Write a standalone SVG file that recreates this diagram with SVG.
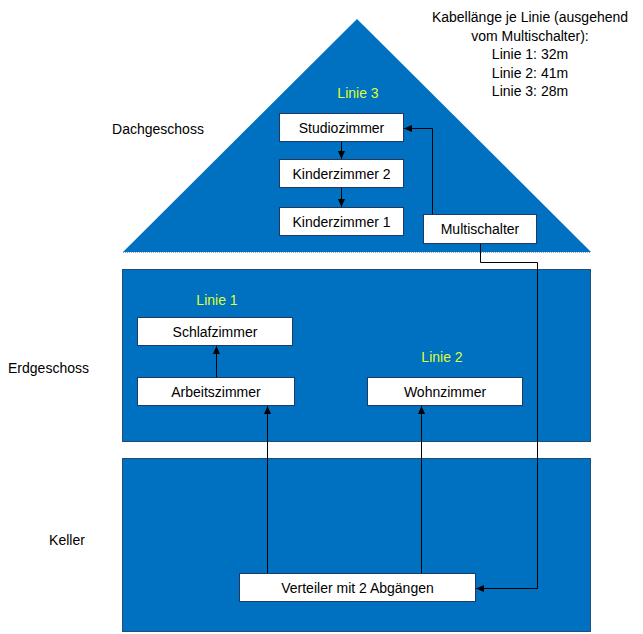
<svg xmlns="http://www.w3.org/2000/svg" width="643" height="634" viewBox="0 0 643 634">
<defs>
<style>
text{font-family:"Liberation Sans",Arial,sans-serif;font-size:14px;fill:#000;}
.c{text-anchor:middle;}
.lin{fill:#DDFF33;text-anchor:middle;}
.floor{fill:#0070C0;stroke:#1F4E79;stroke-width:1;}
.box{fill:#fff;stroke:#1F3864;stroke-width:1;}
.con{fill:none;stroke:#000;stroke-width:1;}
</style>
<marker id="ah" viewBox="0 0 8 8" refX="8" refY="4" markerWidth="8" markerHeight="8" orient="auto" markerUnits="userSpaceOnUse">
<path d="M0,0.5 L8,4 L0,7.5 Z" fill="#000"/>
</marker>
</defs>
<rect width="643" height="634" fill="#fff"/>

<g id="dachgeschoss">
<polygon points="357,19 591,252 123,252" fill="#0070C0"/>
<line x1="123" y1="252.5" x2="591" y2="252.5" stroke="#7FA7CC" stroke-dasharray="1,1"/>
<text x="158" y="134" class="c">Dachgeschoss</text>
<text x="358" y="98" class="lin">Linie 3</text>
</g>
<g id="erdgeschoss">
<rect x="122.5" y="269.5" width="468" height="172" class="floor"/>
<text x="48.5" y="373" class="c">Erdgeschoss</text>
<text x="217" y="305" class="lin">Linie 1</text>
<text x="442" y="362" class="lin">Linie 2</text>
</g>
<g id="keller">
<rect x="122.5" y="458.5" width="468" height="173" class="floor"/>
<text x="67" y="545" class="c">Keller</text>
</g>

<g id="info">
<text x="530" y="22" class="c">Kabellänge je Linie (ausgehend</text>
<text x="530" y="40.5" class="c">vom Multischalter):</text>
<text x="530" y="59" class="c">Linie 1: 32m</text>
<text x="530" y="77.5" class="c">Linie 2: 41m</text>
<text x="530" y="96" class="c">Linie 3: 28m</text>
</g>

<g id="studiozimmer"><rect x="279.5" y="113.5" width="124" height="28" class="box"/><text x="341.5" y="132.5" class="c">Studiozimmer</text></g>
<g id="kinderzimmer2"><rect x="279.5" y="159.5" width="124" height="28" class="box"/><text x="341.5" y="178.5" class="c">Kinderzimmer 2</text></g>
<g id="kinderzimmer1"><rect x="279.5" y="207.5" width="124" height="28" class="box"/><text x="341.5" y="226.5" class="c">Kinderzimmer 1</text></g>
<g id="multischalter"><rect x="423.5" y="214.5" width="113" height="29" class="box"/><text x="480" y="234" class="c">Multischalter</text></g>
<g id="schlafzimmer"><rect x="137.5" y="317.5" width="155" height="28" class="box"/><text x="215" y="336.5" class="c">Schlafzimmer</text></g>
<g id="arbeitszimmer"><rect x="137.5" y="377.5" width="157" height="28" class="box"/><text x="216" y="396.5" class="c">Arbeitszimmer</text></g>
<g id="wohnzimmer"><rect x="367.5" y="377.5" width="155" height="28" class="box"/><text x="445" y="396.5" class="c">Wohnzimmer</text></g>
<g id="verteiler"><rect x="239.5" y="573.5" width="236" height="28" class="box"/><text x="357.5" y="592.5" class="c">Verteiler mit 2 Abgängen</text></g>

<g id="connectors">
<path d="M432.5,214 V128.5 H404" class="con" marker-end="url(#ah)"/>
<path d="M341.5,142 V159" class="con" marker-end="url(#ah)"/>
<path d="M341.5,188 V207" class="con" marker-end="url(#ah)"/>
<path d="M480.5,244 V262.5 H537.5 V588.5 H476" class="con" marker-end="url(#ah)"/>
<path d="M267.5,573 V406" class="con" marker-end="url(#ah)"/>
<path d="M421.5,573 V406" class="con" marker-end="url(#ah)"/>
<path d="M216.5,377 V346" class="con" marker-end="url(#ah)"/>
</g>
</svg>
